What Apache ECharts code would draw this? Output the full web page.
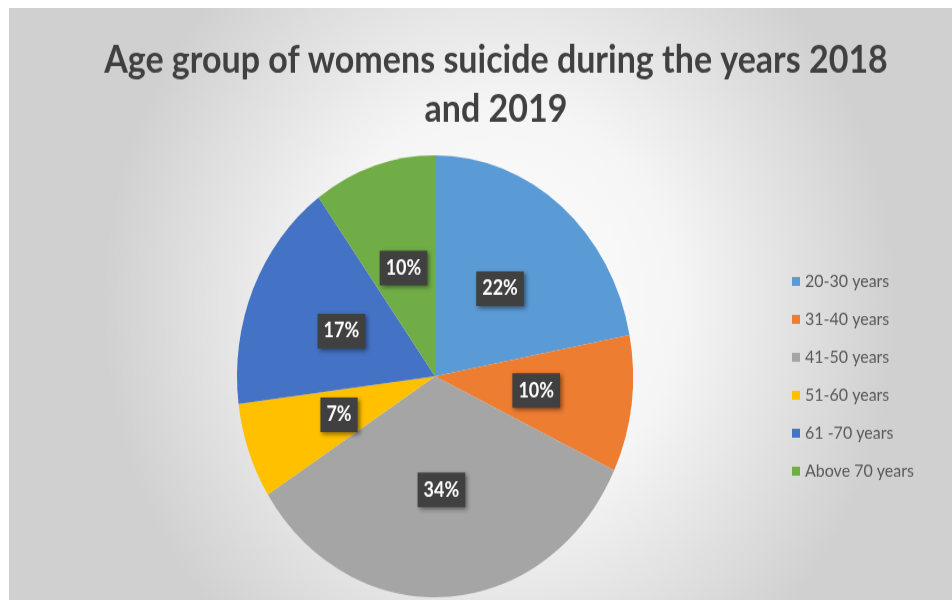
<!DOCTYPE html>
<html>
<head>
<meta charset="utf-8">
<script src="https://cdn.jsdelivr.net/npm/echarts@6/dist/echarts.min.js"></script>
<style>
  html, body { margin: 0; padding: 0; background: #ffffff; }
  #frame { position: absolute; left: 0; top: 0; width: 952px; height: 600px; overflow: hidden; background: #ffffff; }
  /* the chart is drawn slightly squashed and stretched back vertically */
  #chart { position: absolute; left: 9px; top: 8px; width: 943px; height: 530.5px;
           transform: scaleY(1.116); transform-origin: 0 0; }
</style>
</head>
<body>
<div id="frame"><div id="chart"></div></div>
<script>
// Age groups and their share of cases (percent)
const categories = ['20-30 years', '31-40 years', '41-50 years', '51-60 years', '61 -70 years', 'Above 70 years'];
const shares = [22, 10, 34, 7, 17, 10];
const palette = ['#5B9BD5', '#ED7D31', '#A5A5A5', '#FFC000', '#4472C4', '#70AD47'];
const titleText = 'Age group of womens suicide during the years 2018\nand 2019';

const chart = echarts.init(document.getElementById('chart'), null, { renderer: 'canvas' });

chart.setOption({
  animation: false,
  backgroundColor: {
    type: 'radial', x: 0.52, y: 0.5, r: 0.75,
    colorStops: [
      { offset: 0, color: '#ffffff' },
      { offset: 0.45, color: '#f5f5f5' },
      { offset: 1, color: '#d0d0d0' }
    ]
  },
  color: palette,
  title: {
    text: titleText,
    left: 482, top: 20, textAlign: 'center',
    textStyle: { fontFamily: 'Lato', fontWeight: 'bold', fontSize: 34, lineHeight: 44, color: '#404040' }
  },
  legend: {
    orient: 'vertical',
    left: 778, top: 232,
    itemWidth: 8, itemHeight: 8, itemGap: 18,
    icon: 'rect',
    textStyle: { fontFamily: 'Lato', fontSize: 16, lineHeight: 16, color: '#595959' },
    data: categories
  },
  series: [{
    type: 'pie',
    center: [426, 330],
    radius: [0, 198],
    startAngle: 90,
    clockwise: true,
    silent: true,
    data: categories.map((c, i) => ({ name: c, value: shares[i] })),
    label: {
      show: true,
      position: 'inside',
      formatter: p => p.value + '%',
      fontFamily: 'Lato', fontWeight: 'bold', fontSize: 18, color: '#ffffff',
      backgroundColor: '#404040',
      padding: [7, 6, 6, 6],
      shadowColor: 'rgba(0,0,0,0.45)', shadowBlur: 4, shadowOffsetX: 2, shadowOffsetY: 2
    },
    labelLine: { show: false },
    itemStyle: { borderWidth: 0 }
  }]
});
</script>
</body>
</html>
